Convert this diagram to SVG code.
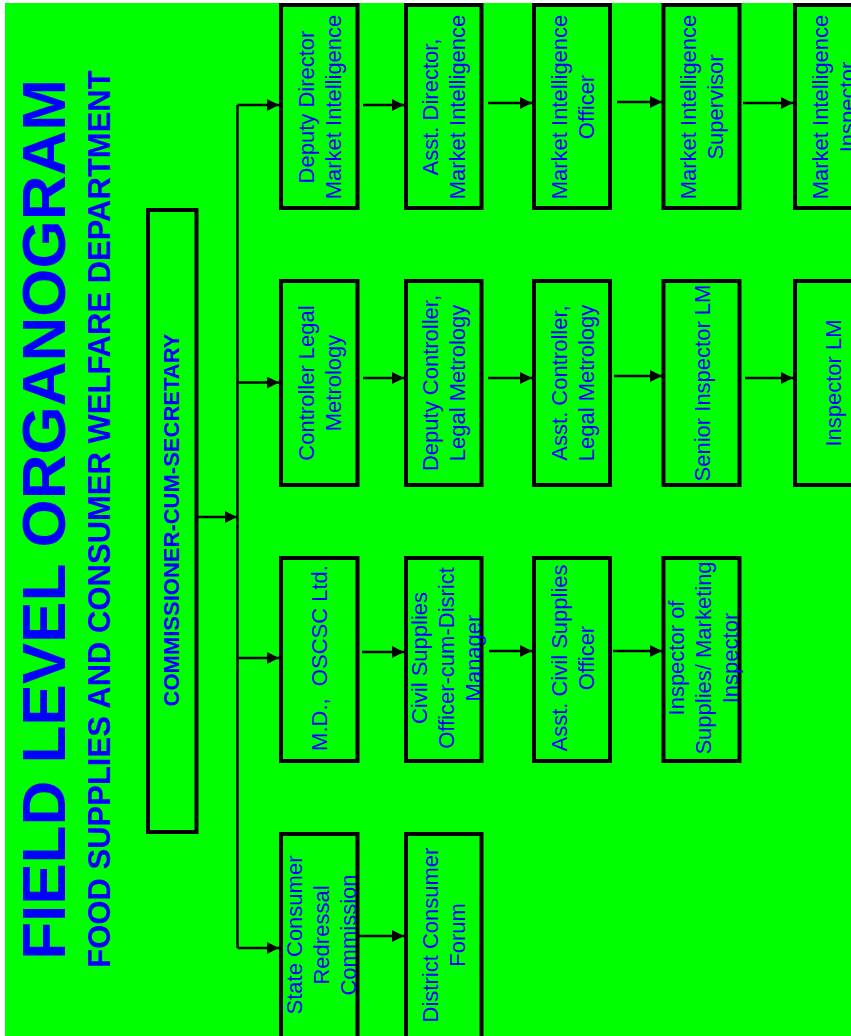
<svg xmlns="http://www.w3.org/2000/svg" width="851" height="1036" viewBox="0 0 851 1036">
<defs>
<style>
.box{fill:#00FF00;stroke:#000;stroke-width:4}
.t{font-family:"Liberation Sans",Arial,sans-serif;font-size:22px;fill:#0000FF;text-anchor:middle;white-space:pre}
.b{font-family:"Liberation Sans",Arial,sans-serif;font-weight:bold;fill:#0000FF;text-anchor:middle}
.c{stroke:#000;stroke-width:2.5;fill:none}
.a{stroke:#000;stroke-width:2.5;fill:none;marker-end:url(#ah)}
</style>
<marker id="ah" markerUnits="userSpaceOnUse" markerWidth="12" markerHeight="12" refX="12" refY="6" orient="auto">
<path d="M0,0 L12,6 L0,12 z" fill="#000"/>
</marker>
</defs>
<rect x="0" y="0" width="851" height="1036" fill="#fff"/>
<rect x="5" y="3" width="846" height="1033" fill="#00FF00"/>

<g id="title">
<text class="b" font-size="62" transform="translate(65,519.5) rotate(-90)">FIELD LEVEL ORGANOGRAM</text>
<text class="b" font-size="31" transform="translate(110,519) rotate(-90)">FOOD SUPPLIES AND CONSUMER WELFARE DEPARTMENT</text>
</g>

<g id="commissioner">
<rect class="box" x="148" y="210" width="48.5" height="622"/>
<text class="b" font-size="22" transform="translate(179,520) rotate(-90)">COMMISSIONER-CUM-SECRETARY</text>
</g>

<g id="connectors">
<path class="c" d="M237.5,105 V948"/>
<path class="a" d="M198,517 H237"/>
<path class="a" d="M237.5,105 H279"/>
<path class="a" d="M237.5,382.5 H279"/>
<path class="a" d="M237.5,658 H279"/>
<path class="a" d="M237.5,948 H279"/>
<path class="a" d="M363,105 H404"/>
<path class="a" d="M488,103 H532"/>
<path class="a" d="M617,102 H662"/>
<path class="a" d="M743,103 H793"/>
<path class="a" d="M363,378 H404"/>
<path class="a" d="M488,378 H532"/>
<path class="a" d="M614,376 H662"/>
<path class="a" d="M745,378 H793"/>
<path class="a" d="M362,652 H404"/>
<path class="a" d="M489,651 H532"/>
<path class="a" d="M613,651 H662"/>
<path class="a" d="M359,936 H404"/>
</g>

<g id="dd-mi">
<rect class="box" x="281" y="5" width="76.5" height="203"/>
<text class="t" transform="translate(319,107) rotate(-90)"><tspan x="0" y="-5.5">Deputy Director</tspan><tspan x="0" y="21.5">Market Intelligence</tspan></text>
</g>
<g id="ad-mi">
<rect class="box" x="406" y="5" width="75.5" height="203"/>
<text class="t" transform="translate(443.75,107) rotate(-90)"><tspan x="0" y="-5.5">Asst. Director,</tspan><tspan x="0" y="21.5">Market Intelligence</tspan></text>
</g>
<g id="mi-officer">
<rect class="box" x="534" y="5" width="76" height="203"/>
<text class="t" transform="translate(572,107) rotate(-90)"><tspan x="0" y="-5.5">Market Intelligence</tspan><tspan x="0" y="21.5">Officer</tspan></text>
</g>
<g id="mi-supervisor">
<rect class="box" x="663.5" y="5" width="76" height="203"/>
<text class="t" transform="translate(701.5,107) rotate(-90)"><tspan x="0" y="-5.5">Market Intelligence</tspan><tspan x="0" y="21.5">Supervisor</tspan></text>
</g>
<g id="mi-inspector">
<rect class="box" x="795" y="5" width="78" height="203"/>
<text class="t" transform="translate(833,107) rotate(-90)"><tspan x="0" y="-5.5">Market Intelligence</tspan><tspan x="0" y="21.5">Inspector</tspan></text>
</g>

<g id="controller-lm">
<rect class="box" x="281" y="281" width="76.5" height="204"/>
<text class="t" transform="translate(319,383) rotate(-90)"><tspan x="0" y="-5.5">Controller Legal</tspan><tspan x="0" y="21.5">Metrology</tspan></text>
</g>
<g id="dc-lm">
<rect class="box" x="406" y="281" width="75.5" height="204"/>
<text class="t" transform="translate(443.75,383) rotate(-90)"><tspan x="0" y="-5.5">Deputy Controller,</tspan><tspan x="0" y="21.5">Legal Metrology</tspan></text>
</g>
<g id="ac-lm">
<rect class="box" x="534" y="281" width="76" height="204"/>
<text class="t" transform="translate(572,383) rotate(-90)"><tspan x="0" y="-5.5">Asst. Controller,</tspan><tspan x="0" y="21.5">Legal Metrology</tspan></text>
</g>
<g id="senior-inspector-lm">
<rect class="box" x="663.5" y="281" width="76" height="204"/>
<text class="t" transform="translate(701.5,383) rotate(-90)"><tspan x="0" y="8">Senior Inspector LM</tspan></text>
</g>
<g id="inspector-lm">
<rect class="box" x="795" y="281" width="78" height="204"/>
<text class="t" transform="translate(833,383) rotate(-90)"><tspan x="0" y="8">Inspector LM</tspan></text>
</g>

<g id="md-oscsc">
<rect class="box" x="281" y="558" width="76.5" height="203"/>
<text class="t" transform="translate(319,658) rotate(-90)"><tspan x="0" y="8">M.D.,  OSCSC Ltd.</tspan></text>
</g>
<g id="cso-dm">
<rect class="box" x="406" y="558" width="75.5" height="203"/>
<text class="t" transform="translate(443.75,658) rotate(-90)"><tspan x="0" y="-17">Civil Supplies</tspan><tspan x="0" y="10">Officer-cum-Disrict</tspan><tspan x="0" y="37">Manager</tspan></text>
</g>
<g id="acso">
<rect class="box" x="534" y="558" width="76" height="203"/>
<text class="t" transform="translate(572,658) rotate(-90)"><tspan x="0" y="-5.5">Asst. Civil Supplies</tspan><tspan x="0" y="21.5">Officer</tspan></text>
</g>
<g id="inspector-supplies">
<rect class="box" x="663.5" y="558" width="76" height="203"/>
<text class="t" transform="translate(701.5,658) rotate(-90)"><tspan x="0" y="-18">Inspector of</tspan><tspan x="0" y="9">Supplies/ Marketing</tspan><tspan x="0" y="36">Inspector</tspan></text>
</g>

<g id="state-commission">
<rect class="box" x="281" y="834" width="76.5" height="206"/>
<text class="t" transform="translate(319,935) rotate(-90)"><tspan x="0" y="-17">State Consumer</tspan><tspan x="0" y="10">Redressal</tspan><tspan x="0" y="37">Commission</tspan></text>
</g>
<g id="district-forum">
<rect class="box" x="406" y="834" width="75.5" height="206"/>
<text class="t" transform="translate(443.75,935) rotate(-90)"><tspan x="0" y="-5.5">District Consumer</tspan><tspan x="0" y="21.5">Forum</tspan></text>
</g>
</svg>
